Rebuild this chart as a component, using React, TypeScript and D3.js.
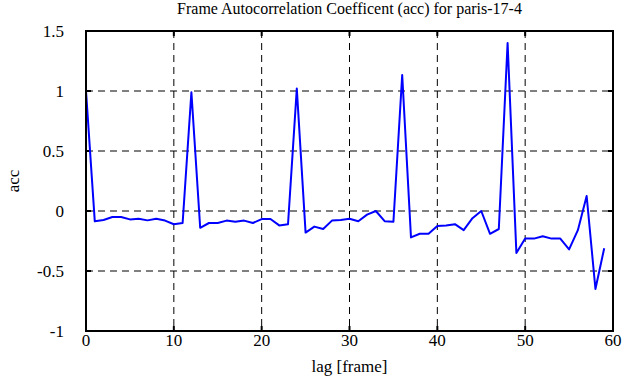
import React from 'react';
import * as d3 from 'd3';

const lags = d3.range(0, 60);
const acc = [
  1.0, -0.086, -0.075, -0.05, -0.05, -0.07, -0.065, -0.078, -0.065, -0.08,
  -0.11, -0.1, 0.99, -0.14, -0.1, -0.1, -0.08, -0.09, -0.08, -0.1,
  -0.067, -0.067, -0.12, -0.11, 1.02, -0.18, -0.13, -0.15, -0.08, -0.075,
  -0.065, -0.085, -0.03, 0.0, -0.085, -0.09, 1.133, -0.22, -0.19, -0.19,
  -0.125, -0.12, -0.11, -0.16, -0.06, 0.0, -0.19, -0.15, 1.4, -0.35,
  -0.23, -0.23, -0.21, -0.23, -0.23, -0.32, -0.16, 0.125, -0.65, -0.31,
];
const xTicks = [0, 10, 20, 30, 40, 50, 60];
const yTicks = [-1, -0.5, 0, 0.5, 1, 1.5];

const W = 625;
const H = 387;
const margin = { left: 86, right: 12, top: 31, bottom: 56 };
const FONT = "'Liberation Serif', 'DejaVu Serif', serif";

const App = () => {
  const x = d3.scaleLinear().domain([0, 60]).range([margin.left, W - margin.right]);
  const y = d3.scaleLinear().domain([-1, 1.5]).range([H - margin.bottom, margin.top]);
  const line = d3
    .line<number>()
    .x((d, i) => x(lags[i]))
    .y(d => y(d));

  const [x0, x1] = x.range();
  const [y0, y1] = y.range();

  return (
    <svg width={W} height={H} style={{ position: 'absolute', left: 0, top: 0, background: '#fff' }}>
      <rect x={0} y={0} width={W} height={H} fill="#fff" />
      {/* grid */}
      {xTicks.slice(1, -1).map(t => (
        <line key={'gx' + t} x1={x(t)} x2={x(t)} y1={y1} y2={y0} stroke="#000" strokeDasharray="7,5" />
      ))}
      {yTicks.slice(1, -1).map(t => (
        <line key={'gy' + t} x1={x0} x2={x1} y1={y(t)} y2={y(t)} stroke="#000" strokeDasharray="7,5" />
      ))}
      {/* ticks, inward on all sides */}
      {xTicks.map(t => (
        <g key={'tx' + t}>
          <line x1={x(t)} x2={x(t)} y1={y0} y2={y0 - 5} stroke="#000" strokeWidth={2} />
          <line x1={x(t)} x2={x(t)} y1={y1} y2={y1 + 5} stroke="#000" strokeWidth={2} />
          <text x={x(t)} y={y0 + 15} textAnchor="middle" fontFamily={FONT} fontSize={17}>
            {t}
          </text>
        </g>
      ))}
      {yTicks.map(t => (
        <g key={'ty' + t}>
          <line x1={x0} x2={x0 + 5} y1={y(t)} y2={y(t)} stroke="#000" strokeWidth={2} />
          <line x1={x1} x2={x1 - 5} y1={y(t)} y2={y(t)} stroke="#000" strokeWidth={2} />
          <text x={x0 - 22} y={y(t) + 6} textAnchor="end" fontFamily={FONT} fontSize={17}>
            {t}
          </text>
        </g>
      ))}
      <path d={line(acc) ?? ''} fill="none" stroke="#0000ff" strokeWidth={2} strokeLinejoin="round" />
      <rect x={x0} y={y1} width={x1 - x0} height={y0 - y1} fill="none" stroke="#000" strokeWidth={2} />
      <text x={(x0 + x1) / 2} y={14} textAnchor="middle" fontFamily={FONT} fontSize={16}>
        Frame Autocorrelation Coefficent (acc) for paris-17-4
      </text>
      <text x={(x0 + x1) / 2} y={372} textAnchor="middle" fontFamily={FONT} fontSize={17}>
        lag [frame]
      </text>
      <text
        transform={`translate(19, ${(y0 + y1) / 2}) rotate(-90)`}
        textAnchor="middle"
        fontFamily={FONT}
        fontSize={17}
      >
        acc
      </text>
    </svg>
  );
};

export default App;
